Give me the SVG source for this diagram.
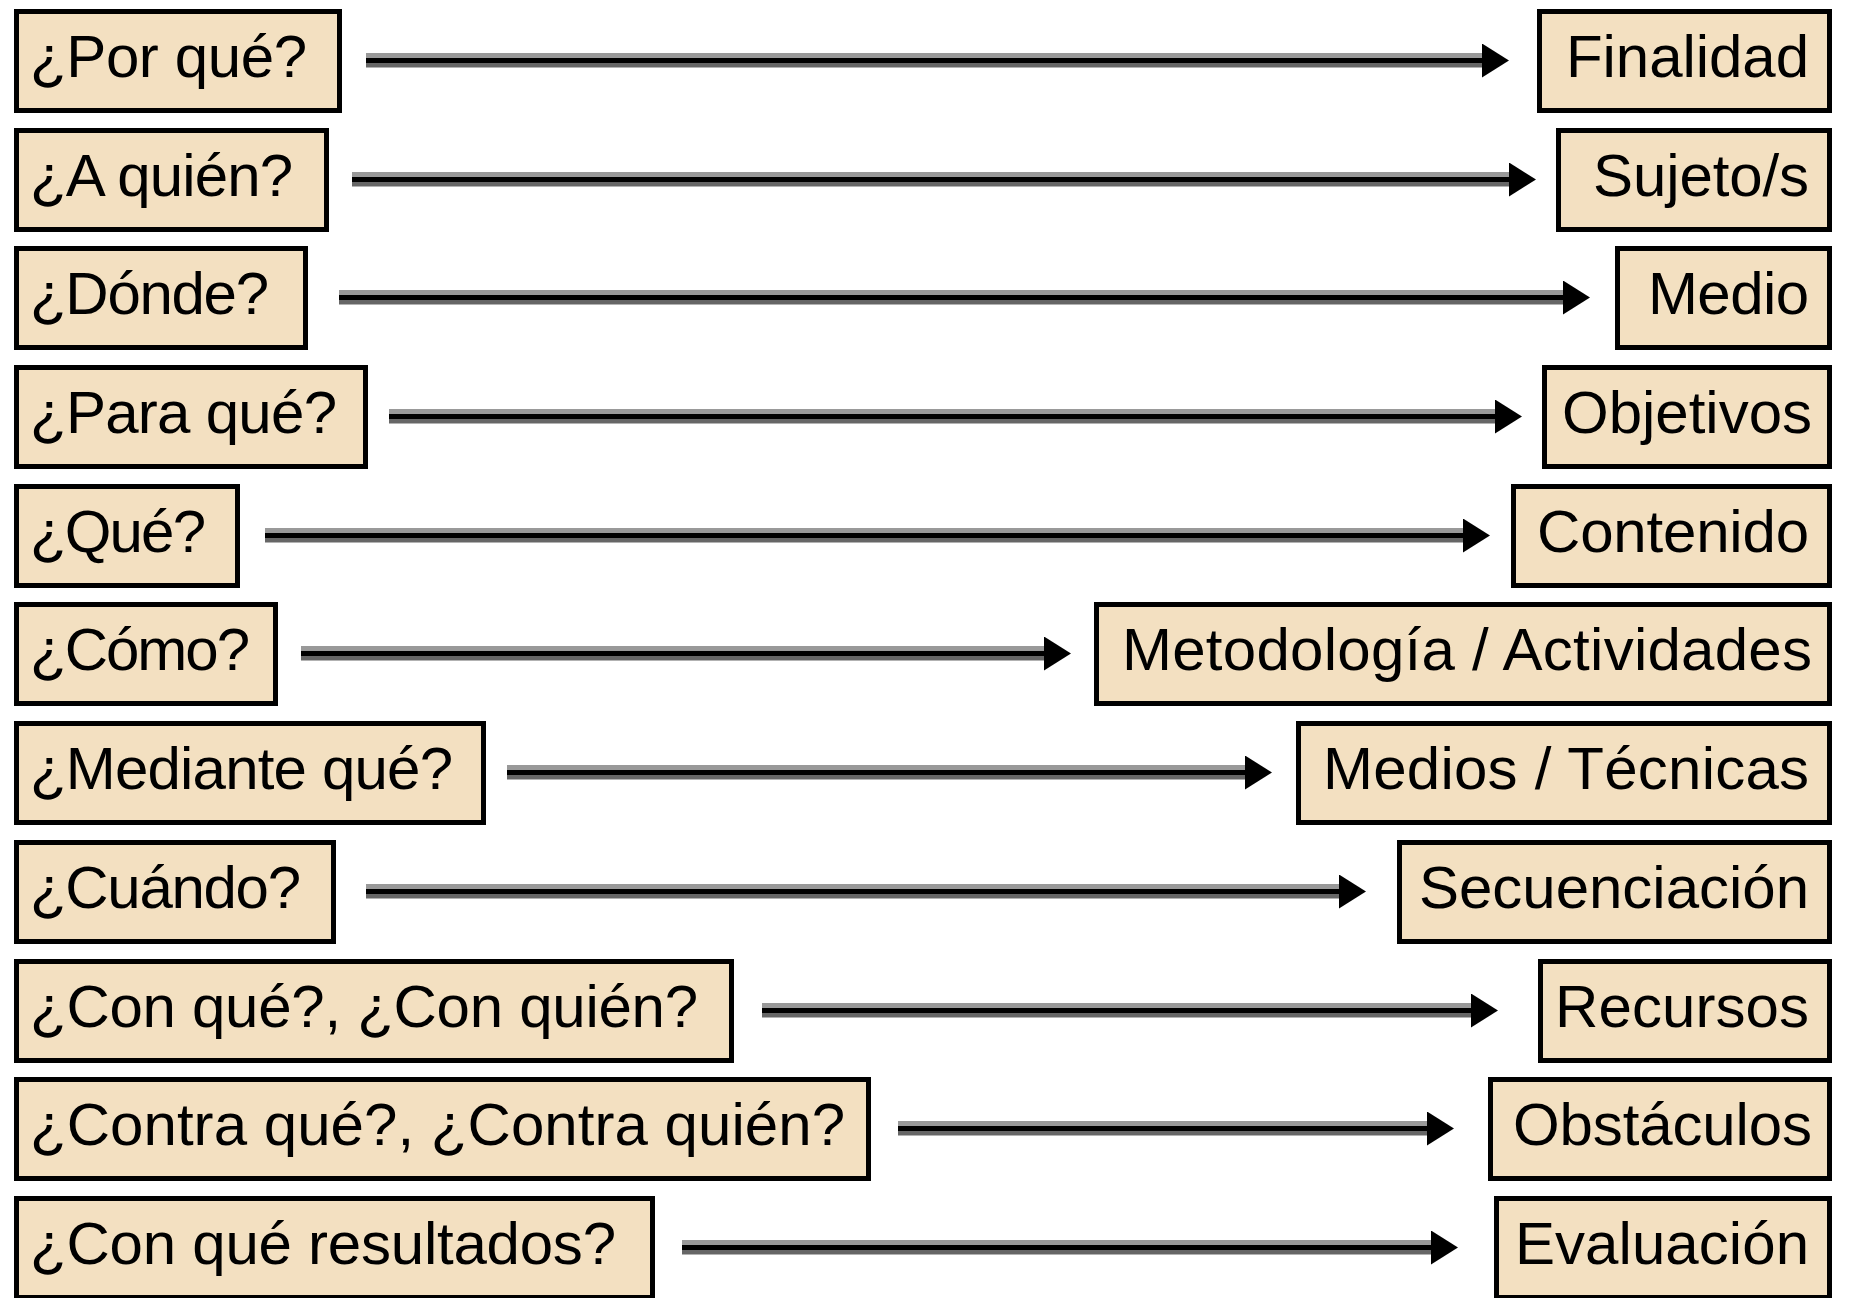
<svg xmlns="http://www.w3.org/2000/svg" width="1850" height="1298" viewBox="0 0 1850 1298">
<style>
.box{fill:#F3E0C1;stroke:#000;stroke-width:5}
.t{font-family:"Liberation Sans",Arial,sans-serif;font-size:60px;fill:#000}
.lg{stroke:#999;stroke-width:5}
.bk{stroke:#000;stroke-width:5}
.dg{stroke:#666;stroke-width:4.5}
</style>
<defs>
<marker id="ah" viewBox="0 0 27 34" refX="0" refY="17" markerWidth="27" markerHeight="34" markerUnits="userSpaceOnUse" orient="auto">
<path d="M0,0 L27,17 L0,34 Z" fill="#000"/>
</marker>
</defs>
<rect width="1850" height="1298" fill="#fff"/>

<g id="q1"><rect class="box" x="16.5" y="11.5" width="323" height="99"/><text class="t" x="30" y="77" textLength="277">¿Por qué?</text></g>
<g id="q2"><rect class="box" x="16.5" y="130.5" width="310" height="99"/><text class="t" x="30" y="196" textLength="263">¿A quién?</text></g>
<g id="q3"><rect class="box" x="16.5" y="248.5" width="289" height="99"/><text class="t" x="30" y="314" textLength="239">¿Dónde?</text></g>
<g id="q4"><rect class="box" x="16.5" y="367.5" width="349" height="99"/><text class="t" x="30" y="433" textLength="307">¿Para qué?</text></g>
<g id="q5"><rect class="box" x="16.5" y="486.5" width="221" height="99"/><text class="t" x="30" y="552" textLength="176">¿Qué?</text></g>
<g id="q6"><rect class="box" x="16.5" y="604.5" width="259" height="99"/><text class="t" x="30" y="670" textLength="220">¿Cómo?</text></g>
<g id="q7"><rect class="box" x="16.5" y="723.5" width="467" height="99"/><text class="t" x="30" y="789" textLength="423">¿Mediante qué?</text></g>
<g id="q8"><rect class="box" x="16.5" y="842.5" width="317" height="99"/><text class="t" x="30" y="908" textLength="271">¿Cuándo?</text></g>
<g id="q9"><rect class="box" x="16.5" y="961.5" width="715" height="99"/><text class="t" x="30" y="1027" textLength="668">¿Con qué?, ¿Con quién?</text></g>
<g id="q10"><rect class="box" x="16.5" y="1079.5" width="852" height="99"/><text class="t" x="30" y="1145" textLength="815">¿Contra qué?, ¿Contra quién?</text></g>
<g id="q11"><rect class="box" x="16.5" y="1198.5" width="636" height="99"/><text class="t" x="30" y="1264" textLength="586">¿Con qué resultados?</text></g>

<g id="a1"><rect class="box" x="1539.5" y="11.5" width="290" height="99"/><text class="t" x="1566" y="77" textLength="243">Finalidad</text></g>
<g id="a2"><rect class="box" x="1558.5" y="130.5" width="271" height="99"/><text class="t" x="1593" y="196" textLength="216">Sujeto/s</text></g>
<g id="a3"><rect class="box" x="1617.5" y="248.5" width="212" height="99"/><text class="t" x="1648" y="314" textLength="161">Medio</text></g>
<g id="a4"><rect class="box" x="1544.5" y="367.5" width="285" height="99"/><text class="t" x="1562" y="433" textLength="250">Objetivos</text></g>
<g id="a5"><rect class="box" x="1513.5" y="486.5" width="316" height="99"/><text class="t" x="1537" y="552" textLength="272">Contenido</text></g>
<g id="a6"><rect class="box" x="1096.5" y="604.5" width="733" height="99"/><text class="t" x="1122" y="670" textLength="690">Metodología / Actividades</text></g>
<g id="a7"><rect class="box" x="1298.5" y="723.5" width="531" height="99"/><text class="t" x="1323" y="789" textLength="486">Medios / Técnicas</text></g>
<g id="a8"><rect class="box" x="1399.5" y="842.5" width="430" height="99"/><text class="t" x="1419" y="908" textLength="390">Secuenciación</text></g>
<g id="a9"><rect class="box" x="1540.5" y="961.5" width="289" height="99"/><text class="t" x="1555" y="1027" textLength="254">Recursos</text></g>
<g id="a10"><rect class="box" x="1490.5" y="1079.5" width="339" height="99"/><text class="t" x="1513" y="1145" textLength="299">Obstáculos</text></g>
<g id="a11"><rect class="box" x="1496.5" y="1198.5" width="333" height="99"/><text class="t" x="1515" y="1264" textLength="294">Evaluación</text></g>

<g id="connectors">
<g><line class="lg" x1="366" y1="55.5" x2="1482" y2="55.5"/><line class="dg" x1="366" y1="65.25" x2="1482" y2="65.25"/><line class="bk" x1="366" y1="60.5" x2="1482" y2="60.5" marker-end="url(#ah)"/></g>
<g><line class="lg" x1="352" y1="174.5" x2="1509" y2="174.5"/><line class="dg" x1="352" y1="184.25" x2="1509" y2="184.25"/><line class="bk" x1="352" y1="179.5" x2="1509" y2="179.5" marker-end="url(#ah)"/></g>
<g><line class="lg" x1="339" y1="292.5" x2="1563" y2="292.5"/><line class="dg" x1="339" y1="302.25" x2="1563" y2="302.25"/><line class="bk" x1="339" y1="297.5" x2="1563" y2="297.5" marker-end="url(#ah)"/></g>
<g><line class="lg" x1="389" y1="411.5" x2="1495" y2="411.5"/><line class="dg" x1="389" y1="421.25" x2="1495" y2="421.25"/><line class="bk" x1="389" y1="416.5" x2="1495" y2="416.5" marker-end="url(#ah)"/></g>
<g><line class="lg" x1="265" y1="530.5" x2="1463" y2="530.5"/><line class="dg" x1="265" y1="540.25" x2="1463" y2="540.25"/><line class="bk" x1="265" y1="535.5" x2="1463" y2="535.5" marker-end="url(#ah)"/></g>
<g><line class="lg" x1="301" y1="648.5" x2="1044" y2="648.5"/><line class="dg" x1="301" y1="658.25" x2="1044" y2="658.25"/><line class="bk" x1="301" y1="653.5" x2="1044" y2="653.5" marker-end="url(#ah)"/></g>
<g><line class="lg" x1="507" y1="767.5" x2="1245" y2="767.5"/><line class="dg" x1="507" y1="777.25" x2="1245" y2="777.25"/><line class="bk" x1="507" y1="772.5" x2="1245" y2="772.5" marker-end="url(#ah)"/></g>
<g><line class="lg" x1="366" y1="886.5" x2="1339" y2="886.5"/><line class="dg" x1="366" y1="896.25" x2="1339" y2="896.25"/><line class="bk" x1="366" y1="891.5" x2="1339" y2="891.5" marker-end="url(#ah)"/></g>
<g><line class="lg" x1="762" y1="1005.5" x2="1471" y2="1005.5"/><line class="dg" x1="762" y1="1015.25" x2="1471" y2="1015.25"/><line class="bk" x1="762" y1="1010.5" x2="1471" y2="1010.5" marker-end="url(#ah)"/></g>
<g><line class="lg" x1="898" y1="1123.5" x2="1427" y2="1123.5"/><line class="dg" x1="898" y1="1133.25" x2="1427" y2="1133.25"/><line class="bk" x1="898" y1="1128.5" x2="1427" y2="1128.5" marker-end="url(#ah)"/></g>
<g><line class="lg" x1="682" y1="1242.5" x2="1431" y2="1242.5"/><line class="dg" x1="682" y1="1252.25" x2="1431" y2="1252.25"/><line class="bk" x1="682" y1="1247.5" x2="1431" y2="1247.5" marker-end="url(#ah)"/></g>
</g>
</svg>
